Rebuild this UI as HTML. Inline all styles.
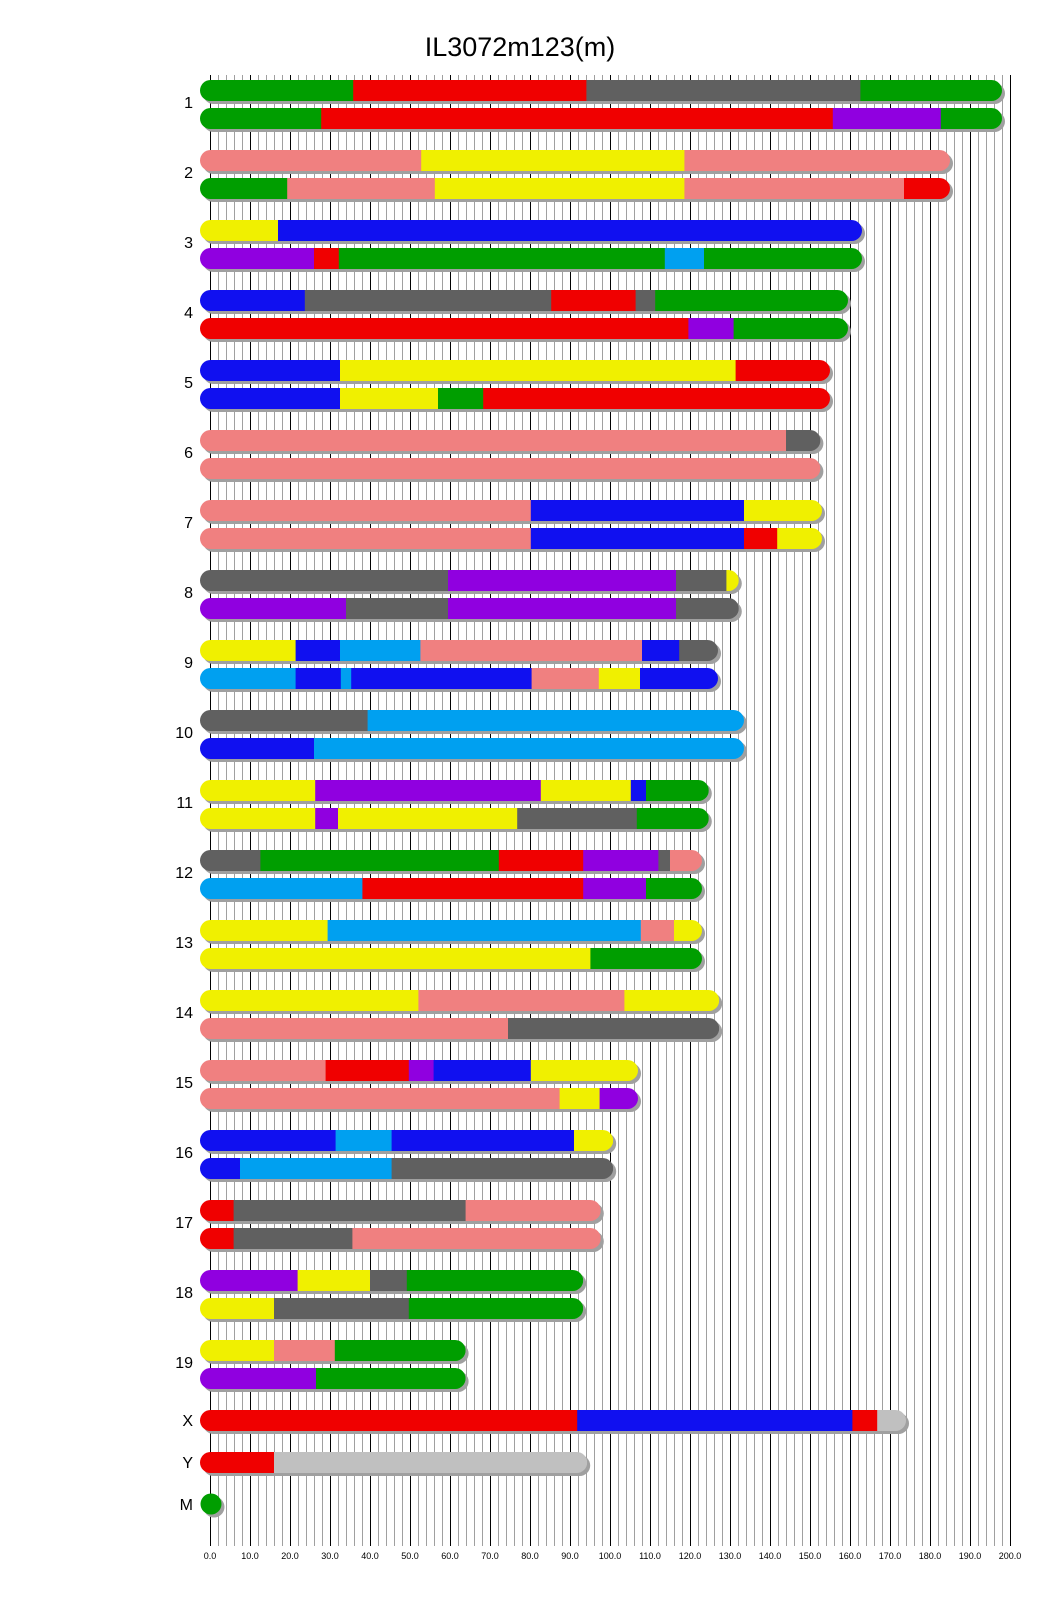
<!DOCTYPE html>
<html><head><meta charset="utf-8"><style>
html,body{margin:0;padding:0;background:#fff;}
svg{display:block;}
text{font-family:"Liberation Sans",sans-serif;}
</style></head><body>
<svg id="s" width="1040" height="1616" viewBox="0 0 1040 1616" xmlns="http://www.w3.org/2000/svg">
<g id="grid"></g>
<g id="bars"></g>
<text x="520" y="56" font-size="27" text-anchor="middle" fill="#000">IL3072m123(m)</text>
<g font-size="16" text-anchor="end" fill="#000">
<text x="193" y="108">1</text>
<text x="193" y="178">2</text>
<text x="193" y="248">3</text>
<text x="193" y="318">4</text>
<text x="193" y="388">5</text>
<text x="193" y="458">6</text>
<text x="193" y="528">7</text>
<text x="193" y="598">8</text>
<text x="193" y="668">9</text>
<text x="193" y="738">10</text>
<text x="193" y="808">11</text>
<text x="193" y="878">12</text>
<text x="193" y="948">13</text>
<text x="193" y="1018">14</text>
<text x="193" y="1088">15</text>
<text x="193" y="1158">16</text>
<text x="193" y="1228">17</text>
<text x="193" y="1298">18</text>
<text x="193" y="1368">19</text>
<text x="193" y="1426">X</text>
<text x="193" y="1468">Y</text>
<text x="193" y="1510">M</text>
</g>
<g font-size="9" text-anchor="middle" fill="#000">
<text x="210" y="1559">0.0</text><text x="250" y="1559">10.0</text><text x="290" y="1559">20.0</text><text x="330" y="1559">30.0</text><text x="370" y="1559">40.0</text><text x="410" y="1559">50.0</text><text x="450" y="1559">60.0</text><text x="490" y="1559">70.0</text><text x="530" y="1559">80.0</text><text x="570" y="1559">90.0</text><text x="610" y="1559">100.0</text><text x="650" y="1559">110.0</text><text x="690" y="1559">120.0</text><text x="730" y="1559">130.0</text><text x="770" y="1559">140.0</text><text x="810" y="1559">150.0</text><text x="850" y="1559">160.0</text><text x="890" y="1559">170.0</text><text x="930" y="1559">180.0</text><text x="970" y="1559">190.0</text><text x="1010" y="1559">200.0</text>
</g>
</svg>
<script>
var NS="http://www.w3.org/2000/svg";
function el(n,a,p){var e=document.createElementNS(NS,n);for(var k in a)e.setAttribute(k,a[k]);p.appendChild(e);return e;}
var grid=document.getElementById('grid'),bars=document.getElementById('bars');
for(var k=0;k<=100;k++){var x=210+8*k+0.5;el('line',{x1:x,y1:75,x2:x,y2:1546,stroke:k%5==0?'#000':'#a0a0a0','stroke-width':1},grid);}
var C={g:'#009e00',r:'#f00000',d:'#606060',p:'#9000e0',s:'#f08080',y:'#f0f000',b:'#1010f0',l:'#00a0f0',a:'#c0c0c0'};
var rows=[];
var chr=[
[[['g',35.8],['r',94.1],['d',162.6],['g',198]],[['g',27.8],['r',155.7],['p',182.7],['g',198]]],
[[['s',52.8],['y',118.6],['s',185]],[['g',19.3],['s',56.2],['y',118.6],['s',173.5],['r',185]]],
[[['y',17],['b',163]],[['p',26],['r',32.2],['g',113.7],['l',123.5],['g',163]]],
[[['b',23.7],['d',85.3],['r',106.4],['d',111.3],['g',159.5]],[['r',119.6],['p',130.9],['g',159.5]]],
[[['b',32.5],['y',131.4],['r',155]],[['b',32.5],['y',57],['g',68.3],['r',155]]],
[[['s',144],['d',152.6]],[['s',152.6]]],
[[['s',80.2],['b',133.5],['y',153]],[['s',80.2],['b',133.5],['r',141.8],['y',153]]],
[[['d',59.5],['p',116.5],['d',129.1],['y',132.2]],[['p',34],['d',59.5],['p',116.5],['d',132.2]]],
[[['y',21.4],['b',32.5],['l',52.6],['s',108],['b',117.3],['d',127]],[['l',21.4],['b',32.7],['l',35.3],['b',80.4],['s',97.2],['y',107.5],['b',127]]],
[[['d',39.4],['l',133.5]],[['b',26],['l',133.5]]],
[[['y',26.3],['p',82.7],['y',105.2],['b',109],['g',124.7]],[['y',26.3],['p',32],['y',76.8],['d',106.7],['g',124.7]]],
[[['d',12.6],['g',72.2],['r',93.3],['p',112.1],['d',115],['s',123]],[['l',38.1],['r',93.3],['p',109],['g',123]]],
[[['y',29.4],['l',107.7],['s',116],['y',123]],[['y',95.1],['g',123]]],
[[['y',52.1],['s',103.6],['y',127.3]],[['s',74.5],['d',127.3]]],
[[['s',28.9],['r',49.7],['p',55.9],['b',80.2],['y',107]],[['s',87.4],['y',97.4],['p',107]]],
[[['b',31.4],['l',45.4],['b',91],['y',100.8]],[['b',7.5],['l',45.4],['d',100.8]]],
[[['r',5.9],['d',63.9],['s',97.7]],[['r',5.9],['d',35.6],['s',97.7]]],
[[['p',21.9],['y',40],['d',49.2],['g',93.3]],[['y',16],['d',49.7],['g',93.3]]],
[[['y',16],['s',31.2],['g',63.9]],[['p',26.5],['g',63.9]]]
];
for(var i=0;i<chr.length;i++){rows.push([80+70*i,chr[i][0]]);rows.push([108+70*i,chr[i][1]]);}
rows.push([1410,[['r',91.8],['b',160.6],['r',166.8],['a',174]]]);
rows.push([1452,[['r',16],['a',94.3]]]);
var defs=el('defs',{},bars);
rows.forEach(function(r,idx){
  var y=r[0],segs=r[1],L=segs[segs.length-1][1];
  var x0=200,x1=210+4*L,h=21,rad=10.5;
  el('rect',{x:x0+3,y:y+3,width:x1-x0,height:h,rx:rad,ry:rad,fill:'#a0a0a0'},bars);
  var cp=el('clipPath',{id:'c'+idx},defs);
  el('rect',{x:x0,y:y,width:x1-x0,height:h,rx:rad,ry:rad},cp);
  var g=el('g',{'clip-path':'url(#c'+idx+')'},bars);
  var prev=x0;
  segs.forEach(function(s,j){
    var e=(j==segs.length-1)?x1:210+4*s[1];
    el('rect',{x:prev,y:y,width:e-prev+(j==segs.length-1?0:0.5),height:h,fill:C[s[0]]},g);
    prev=e;
  });
});
el('circle',{cx:214,cy:1507,r:10.5,fill:'#a0a0a0'},bars);
el('circle',{cx:211,cy:1504,r:10.5,fill:'#009e00'},bars);
</script>
</body></html>
